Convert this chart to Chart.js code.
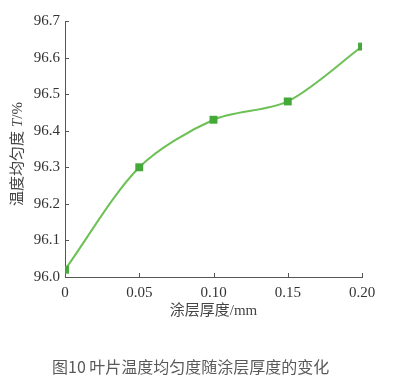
<!DOCTYPE html>
<html>
<head>
<meta charset="utf-8">
<script src="https://cdn.jsdelivr.net/npm/chart.js@4"></script>
<style>
  html, body { margin: 0; padding: 0; background: #fff; }
  #wrap { position: relative; width: 412px; height: 383px; }
  #caption {
    position: absolute; left: 52px; top: 354px;
    font: 16px "Noto Sans CJK SC", "Noto Sans", sans-serif;
    color: #595959; white-space: nowrap;
  }
</style>
</head>
<body>
<div id="wrap">
  <canvas id="myChart" width="412" height="383"></canvas>
  <div id="caption">图10 叶片温度均匀度随涂层厚度的变化</div>
</div>
<script>
// coating thickness (mm) vs temperature uniformity (%)
var thickness = [0, 0.05, 0.10, 0.15, 0.20];
var uniformity = [96.02, 96.30, 96.43, 96.48, 96.63];
var xTicks = [0, 0.05, 0.10, 0.15, 0.20];
var yTicks = [96.0, 96.1, 96.2, 96.3, 96.4, 96.5, 96.6, 96.7];
var xTitle = '涂层厚度/mm';

var serif = '"Liberation Serif", "Times New Roman", "Noto Sans CJK SC", serif';
Chart.defaults.font.family = serif;

function makeData() {
    var pts = [];
    for (var i = 0; i < thickness.length; i++) {
        pts.push({ x: thickness[i], y: uniformity[i] });
    }
    return pts;
}

// inside tick marks + rotated y title with italic T
var extras = {
    id: 'extras',
    afterDraw: function(chart) {
        var ctx = chart.ctx;
        var xs = chart.scales.x, ys = chart.scales.y;
        var a = chart.chartArea;
        ctx.save();
        ctx.strokeStyle = '#555';
        ctx.lineWidth = 1;
        ctx.beginPath();
        for (var i = 1; i < xTicks.length; i++) {
            var px = Math.round(xs.getPixelForValue(xTicks[i])) + 0.5;
            ctx.moveTo(px, a.bottom);
            ctx.lineTo(px, a.bottom - 4);
        }
        for (var j = 1; j < yTicks.length; j++) {
            var py = Math.round(ys.getPixelForValue(yTicks[j])) + 0.5;
            ctx.moveTo(a.left, py);
            ctx.lineTo(a.left + 4, py);
        }
        ctx.stroke();

        // y title
        ctx.translate(18, (a.top + a.bottom) / 2 + 5);
        ctx.rotate(-Math.PI / 2);
        ctx.fillStyle = '#444';
        ctx.textBaseline = 'middle';
        var p1 = '温度均匀度 ', p2 = 'T', p3 = '/%';
        ctx.font = '15px ' + serif;
        var w1 = ctx.measureText(p1).width;
        var w3 = ctx.measureText(p3).width;
        ctx.font = 'italic 15px ' + serif;
        var w2 = ctx.measureText(p2).width;
        var x0 = -(w1 + w2 + w3) / 2;
        ctx.textAlign = 'left';
        ctx.font = '15px ' + serif;
        ctx.fillText(p1, x0, 0);
        ctx.font = 'italic 15px ' + serif;
        ctx.fillText(p2, x0 + w1, 0);
        ctx.font = '15px ' + serif;
        ctx.fillText(p3, x0 + w1 + w2, 0);
        ctx.restore();
    }
};

const ctx = document.getElementById('myChart').getContext('2d');
const config = {
    type: 'line',
    data: {
        datasets: [{
            data: makeData(),
            borderColor: '#6cc055',
            borderWidth: 2,
            backgroundColor: '#45a93a',
            pointBackgroundColor: '#45a93a',
            pointBorderWidth: 0,
            pointStyle: 'rect',
            pointRadius: 5.6,
            tension: 0.3,
            fill: false
        }]
    },
    options: {
        responsive: false,
        animation: false,
        layout: { padding: { left: 0, right: 50, top: 21, bottom: 63 } },
        plugins: { legend: { display: false }, tooltip: { enabled: false } },
        scales: {
            x: {
                type: 'linear',
                min: 0, max: 0.20,
                afterBuildTicks: function(s) { s.ticks = xTicks.map(function(v) { return { value: v }; }); },
                afterFit: function(s) { s.height = 43; },
                grid: { display: false, drawTicks: false },
                border: { display: true, color: '#555', width: 1 },
                ticks: {
                    color: '#333', padding: 7,
                    font: { family: serif, size: 15 },
                    callback: function(v) { return v === 0 ? '0' : v.toFixed(2); }
                },
                title: {
                    display: true, text: xTitle, color: '#444',
                    font: { family: serif, size: 15 },
                    padding: { top: 3, bottom: 0 }
                }
            },
            y: {
                min: 96.0, max: 96.7,
                afterBuildTicks: function(s) { s.ticks = yTicks.map(function(v) { return { value: v }; }); },
                afterFit: function(s) { s.width = 65; },
                grid: { display: false, drawTicks: false },
                border: { display: true, color: '#555', width: 1 },
                ticks: {
                    color: '#333', padding: 5,
                    font: { family: serif, size: 15 },
                    callback: function(v) { return v.toFixed(1); }
                }
            }
        }
    },
    plugins: [extras]
};
const myChart = new Chart(ctx, config);
</script>
</body>
</html>
